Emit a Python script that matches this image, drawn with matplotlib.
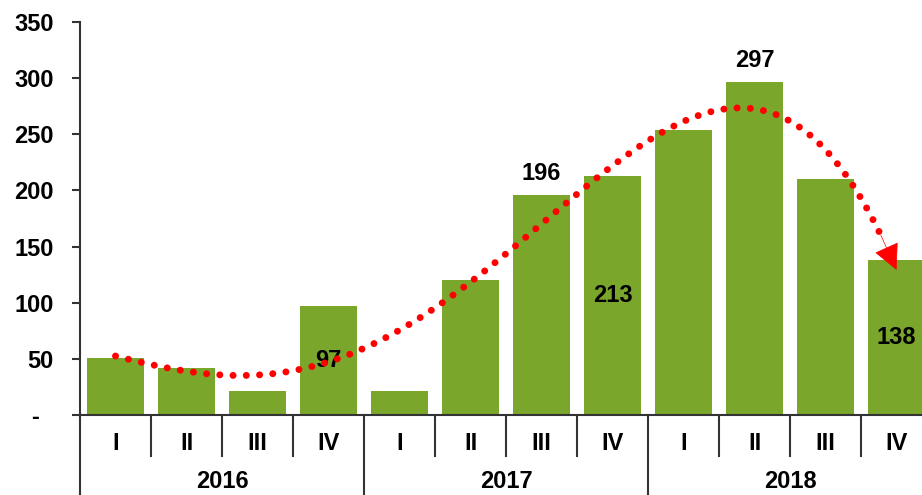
import numpy as np
import matplotlib
matplotlib.use("Agg")
import matplotlib.pyplot as plt
from matplotlib.ticker import FixedLocator

plt.rcParams['font.family'] = ['Liberation Sans', 'DejaVu Sans']

quarters = ["I", "II", "III", "IV"] * 3
years = ["2016", "2017", "2018"]
values = [51, 42, 21, 97, 21, 120, 196, 213, 254, 297, 210, 138]
center_labels = ["", "", "", "97", "", "", "", "213", "", "", "", "138"]
edge_labels = ["", "", "", "", "", "", "196", "", "", "297", "", ""]
y_ticks = [0, 50, 100, 150, 200, 250, 300, 350]
y_tick_labels = ["-  ", "50", "100", "150", "200", "250", "300", "350"]
trend_degree = 4

bar_color = "#79A62B"
dark = "#333333"
fs = 17

fig = plt.figure(figsize=(9.22, 4.95), dpi=100)
ax = fig.add_axes([80 / 922, 80 / 495, 852 / 922, 393 / 495])

x = np.arange(len(values))
bars = ax.bar(x, values, width=0.8, color=bar_color, zorder=2)

ax.set_xlim(-0.5, len(values) - 0.5)
ax.set_ylim(0, 350)

# y axis
ax.set_yticks(y_ticks)
ax.set_yticklabels(y_tick_labels, fontsize=fs, fontweight="bold", color="black")
ax.tick_params(axis="y", direction="out", length=6, width=1.5, color=dark, pad=13)

# x axis: category labels and separators
ax.set_xticks(x)
ax.set_xticklabels(quarters, fontsize=fs, fontweight="bold", color="black")
ax.tick_params(axis="x", which="major", length=0, pad=12)
boundaries = [b - 0.5 for b in range(1, len(values)) if b % 4 != 0]
ax.xaxis.set_minor_locator(FixedLocator(boundaries))
ax.tick_params(axis="x", which="minor", direction="out", length=30, width=1.5, color=dark)

for s in ["top", "right"]:
    ax.spines[s].set_visible(False)
for s in ["left", "bottom"]:
    ax.spines[s].set_color(dark)
    ax.spines[s].set_linewidth(1.5)

trans = ax.get_xaxis_transform()
for yb in range(len(years) + 1):
    xb = yb * 4 - 0.5
    ax.plot([xb, xb], [0, -0.3], transform=trans, color=dark, lw=1.5, clip_on=False)
for i, yr in enumerate(years):
    ax.annotate(yr, xy=(i * 4 + 1.5, 0), xycoords=trans, xytext=(0, -48),
                textcoords="offset points", ha="center", va="center",
                fontsize=fs, fontweight="bold", color="black", annotation_clip=False)

# data labels
ax.bar_label(bars, labels=center_labels, label_type="center", fontsize=fs,
             fontweight="bold", color="black", zorder=3)
ax.bar_label(bars, labels=edge_labels, label_type="edge", padding=7, fontsize=fs,
             fontweight="bold", color="black", zorder=3)

# polynomial trend line with arrow
coef = np.polyfit(x, values, trend_degree)
x_stop = 10.78
xs = np.linspace(0, x_stop, 200)
ax.plot(xs, np.polyval(coef, xs), color="red", lw=5, linestyle=(0, (0.01, 1.9)),
        dash_capstyle="round", zorder=4, clip_on=False)
x_end = len(values) - 1
ax.annotate("", xy=(x_end, np.polyval(coef, x_end)),
            xytext=(x_stop, np.polyval(coef, x_stop)),
            arrowprops=dict(arrowstyle="-|>", color="red", lw=0.5,
                            mutation_scale=42, shrinkA=0, shrinkB=0),
            zorder=5)

fig.savefig("out.png", dpi=100)
